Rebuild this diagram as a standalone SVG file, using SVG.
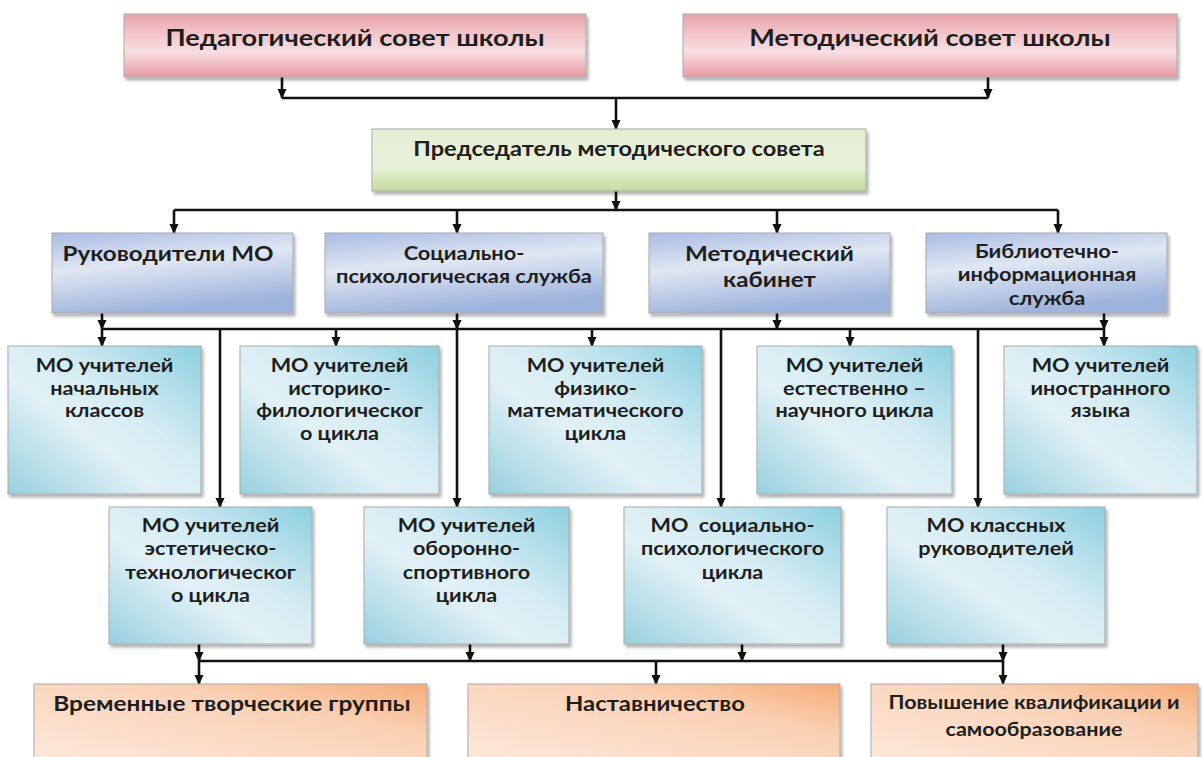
<svg xmlns="http://www.w3.org/2000/svg" width="1202" height="757" viewBox="0 0 1202 757">
<defs>
<style>
.box{stroke:#a9a9a9;stroke-width:1;filter:url(#sh)}
.t{font-family:Lato,"Liberation Sans",sans-serif;font-weight:700;fill:#1e1e1e;text-anchor:middle}
.c{fill:none;stroke:#111;stroke-width:2.6}
.a{fill:none;stroke:#111;stroke-width:2.6;marker-end:url(#ah)}
</style>
<filter id="sh" x="-5%" y="-5%" width="112%" height="125%">
<feDropShadow dx="2" dy="3" stdDeviation="1.5" flood-color="#000" flood-opacity="0.3"/>
</filter>
<marker id="ah" markerWidth="10" markerHeight="10" refX="9" refY="5" orient="auto" markerUnits="userSpaceOnUse">
<path d="M0,0.5 L10,5 L0,9.5 z" fill="#111"/>
</marker>
<linearGradient id="gPink" x1="0" y1="0" x2="0" y2="1">
<stop offset="0" stop-color="#e8a3aa"/>
<stop offset="0.35" stop-color="#f2c9cd"/>
<stop offset="0.6" stop-color="#f7dee1"/>
<stop offset="1" stop-color="#e89ba2"/>
</linearGradient>
<linearGradient id="gGreen" x1="0" y1="0" x2="0" y2="1">
<stop offset="0" stop-color="#e4eed3"/>
<stop offset="0.6" stop-color="#e9f1da"/>
<stop offset="1" stop-color="#c4dc9b"/>
</linearGradient>
<linearGradient id="gBlue" x1="0" y1="0" x2="0.3" y2="1">
<stop offset="0" stop-color="#a9bce2"/>
<stop offset="0.45" stop-color="#e0e7f3"/>
<stop offset="1" stop-color="#9fb4dc"/>
</linearGradient>
<linearGradient id="gTeal" x1="1" y1="0" x2="0" y2="1">
<stop offset="0" stop-color="#8ccfdf"/>
<stop offset="0.4" stop-color="#d5ecf3"/>
<stop offset="0.6" stop-color="#e1f1f6"/>
<stop offset="1" stop-color="#98d0df"/>
</linearGradient>
<linearGradient id="gOrange" x1="1" y1="0" x2="0" y2="1">
<stop offset="0" stop-color="#f6ad78"/>
<stop offset="0.35" stop-color="#fad2b6"/>
<stop offset="1" stop-color="#fde9dc"/>
</linearGradient>
</defs>
<rect x="0" y="0" width="1202" height="757" fill="#ffffff"/>

<g id="connectors">
<path class="a" d="M282,77 V98"/>
<path class="a" d="M988,77 V98"/>
<path class="c" d="M282,98 H988"/>
<path class="a" d="M616,98 V129"/>
<path class="a" d="M616,191 V210"/>
<path class="c" d="M174,210 H1058"/>
<path class="a" d="M174,210 V233"/>
<path class="a" d="M457,210 V233"/>
<path class="a" d="M777,210 V233"/>
<path class="a" d="M1058,210 V233"/>
<path class="a" d="M102,313 V329"/>
<path class="a" d="M457,313 V329"/>
<path class="a" d="M777,313 V329"/>
<path class="a" d="M1104,313 V329"/>
<path class="c" d="M102,329 H1104"/>
<path class="a" d="M102,329 V346"/>
<path class="a" d="M336,329 V346"/>
<path class="a" d="M592,329 V346"/>
<path class="a" d="M850,329 V346"/>
<path class="a" d="M1104,329 V346"/>
<path class="a" d="M220,329 V507"/>
<path class="a" d="M457,329 V507"/>
<path class="a" d="M721,329 V507"/>
<path class="a" d="M978,329 V507"/>
<path class="a" d="M199,644 V661"/>
<path class="a" d="M470,644 V661"/>
<path class="a" d="M742,644 V661"/>
<path class="a" d="M1003,644 V661"/>
<path class="c" d="M199,661 H1003"/>
<path class="a" d="M199,661 V684"/>
<path class="a" d="M656,661 V684"/>
<path class="a" d="M1003,661 V684"/>
</g>

<g id="ped">
<rect class="box" x="124" y="14" width="462" height="63" fill="url(#gPink)"/>
<text class="t" style="font-size:23px" transform="translate(355,46) scale(1.18,1)">Педагогический совет школы</text>
</g>
<g id="met">
<rect class="box" x="683" y="14" width="494" height="63" fill="url(#gPink)"/>
<text class="t" style="font-size:23px" transform="translate(930,46) scale(1.18,1)">Методический совет школы</text>
</g>
<g id="pred">
<rect class="box" x="372" y="129" width="494" height="62" fill="url(#gGreen)"/>
<text class="t" style="font-size:20px" transform="translate(619,156) scale(1.18,1)">Председатель методического совета</text>
</g>

<g id="rukmo">
<rect class="box" x="52" y="233" width="241" height="80" fill="url(#gBlue)"/>
<text class="t" style="font-size:20.5px" transform="translate(168,261) scale(1.18,1)">Руководители МО</text>
</g>
<g id="socserv">
<rect class="box" x="325" y="233" width="278" height="80" fill="url(#gBlue)"/>
<text class="t" style="font-size:18.5px" transform="translate(464,260) scale(1.18,1)"><tspan x="0" y="0">Социально-</tspan><tspan x="0" dy="23.5">психологическая служба</tspan></text>
</g>
<g id="metkab">
<rect class="box" x="649" y="233" width="241" height="80" fill="url(#gBlue)"/>
<text class="t" style="font-size:20.5px" transform="translate(769.5,261) scale(1.18,1)"><tspan x="0" y="0">Методический</tspan><tspan x="0" dy="26">кабинет</tspan></text>
</g>
<g id="bibl">
<rect class="box" x="926" y="233" width="241" height="80" fill="url(#gBlue)"/>
<text class="t" style="font-size:18.5px" transform="translate(1047,258) scale(1.18,1)"><tspan x="0" y="0">Библиотечно-</tspan><tspan x="0" dy="23.5">информационная</tspan><tspan x="0" dy="23.5">служба</tspan></text>
</g>

<g id="mo-nach">
<rect class="box" x="8" y="346" width="193" height="148" fill="url(#gTeal)"/>
<text class="t" style="font-size:18.3px" transform="translate(104.5,372) scale(1.18,1)"><tspan x="0" y="0">МО учителей</tspan><tspan x="0" dy="22.7">начальных</tspan><tspan x="0" dy="22.7">классов</tspan></text>
</g>
<g id="mo-ist">
<rect class="box" x="240" y="346" width="199" height="148" fill="url(#gTeal)"/>
<text class="t" style="font-size:18.3px" transform="translate(339.5,372) scale(1.18,1)"><tspan x="0" y="0">МО учителей</tspan><tspan x="0" dy="22.7">историко-</tspan><tspan x="0" dy="22.7">филологическог</tspan><tspan x="0" dy="22.7">о цикла</tspan></text>
</g>
<g id="mo-fiz">
<rect class="box" x="489" y="346" width="213" height="148" fill="url(#gTeal)"/>
<text class="t" style="font-size:18.3px" transform="translate(595.5,372) scale(1.18,1)"><tspan x="0" y="0">МО учителей</tspan><tspan x="0" dy="22.7">физико-</tspan><tspan x="0" dy="22.7">математического</tspan><tspan x="0" dy="22.7">цикла</tspan></text>
</g>
<g id="mo-est">
<rect class="box" x="757" y="346" width="195" height="148" fill="url(#gTeal)"/>
<text class="t" style="font-size:18.3px" transform="translate(854.5,372) scale(1.18,1)"><tspan x="0" y="0">МО учителей</tspan><tspan x="0" dy="22.7">естественно –</tspan><tspan x="0" dy="22.7">научного цикла</tspan></text>
</g>
<g id="mo-in">
<rect class="box" x="1004" y="346" width="193" height="148" fill="url(#gTeal)"/>
<text class="t" style="font-size:18.3px" transform="translate(1100.5,372) scale(1.18,1)"><tspan x="0" y="0">МО учителей</tspan><tspan x="0" dy="22.7">иностранного</tspan><tspan x="0" dy="22.7">языка</tspan></text>
</g>

<g id="mo-est-teh">
<rect class="box" x="109" y="507" width="203" height="137" fill="url(#gTeal)"/>
<text class="t" style="font-size:18.3px" transform="translate(210.5,532) scale(1.18,1)"><tspan x="0" y="0">МО учителей</tspan><tspan x="0" dy="23.3">эстетическо-</tspan><tspan x="0" dy="23.3">технологическог</tspan><tspan x="0" dy="23.3">о цикла</tspan></text>
</g>
<g id="mo-obor">
<rect class="box" x="364" y="507" width="205" height="137" fill="url(#gTeal)"/>
<text class="t" style="font-size:18.3px" transform="translate(466.5,532) scale(1.18,1)"><tspan x="0" y="0">МО учителей</tspan><tspan x="0" dy="23.3">оборонно-</tspan><tspan x="0" dy="23.3">спортивного</tspan><tspan x="0" dy="23.3">цикла</tspan></text>
</g>
<g id="mo-soc">
<rect class="box" x="624" y="507" width="217" height="137" fill="url(#gTeal)"/>
<text class="t" style="font-size:18.3px" xml:space="preserve" transform="translate(732.5,532) scale(1.18,1)"><tspan x="0" y="0">МО  социально-</tspan><tspan x="0" dy="23.3">психологического</tspan><tspan x="0" dy="23.3">цикла</tspan></text>
</g>
<g id="mo-kl">
<rect class="box" x="887" y="507" width="218" height="137" fill="url(#gTeal)"/>
<text class="t" style="font-size:18.3px" transform="translate(996,532) scale(1.18,1)"><tspan x="0" y="0">МО классных</tspan><tspan x="0" dy="23.3">руководителей</tspan></text>
</g>

<g id="vtg">
<rect class="box" x="34" y="684" width="393" height="80" fill="url(#gOrange)"/>
<text class="t" style="font-size:20.7px" transform="translate(232,711) scale(1.18,1)">Временные творческие группы</text>
</g>
<g id="nast">
<rect class="box" x="468" y="684" width="372" height="80" fill="url(#gOrange)"/>
<text class="t" style="font-size:20.2px" transform="translate(655,711) scale(1.18,1)">Наставничество</text>
</g>
<g id="pov">
<rect class="box" x="871" y="684" width="327" height="80" fill="url(#gOrange)"/>
<text class="t" style="font-size:18.2px" transform="translate(1034,709) scale(1.18,1)"><tspan x="0" y="0">Повышение квалификации и</tspan><tspan x="0" dy="27">самообразование</tspan></text>
</g>
</svg>
